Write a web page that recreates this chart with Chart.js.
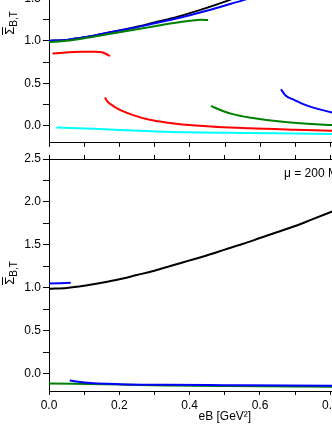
<!DOCTYPE html>
<html>
<head>
<meta charset="utf-8">
<script src="https://cdn.jsdelivr.net/npm/chart.js@4.4.0/dist/chart.umd.min.js"></script>
<style>
  html, body { margin: 0; padding: 0; overflow: hidden; background: #fff; }
  body { width: 332px; height: 430px; position: relative; font-family: "Liberation Sans", Arial, sans-serif; }
  .box { position: absolute; left: 0; width: 412px; }
  .ylab { position: absolute; width: 40px; height: 18px; line-height: 18px; text-align: center;
          font-size: 13px; transform: rotate(-90deg); color: #000; white-space: nowrap; }
  .ylab .s { display: inline-block; line-height: 12px; border-top: 1px solid #000; padding-top: 1px; }
  .ylab sub { font-size: 10px; vertical-align: -3px; }
  #mu { position: absolute; left: 284px; top: 166px; font-size: 12px; line-height: 14px; white-space: nowrap; }
</style>
</head>
<body>
<div class="box" style="top:-96px;height:248px"><canvas id="upper"></canvas></div>
<div class="box" style="top:149px;height:281px"><canvas id="lower"></canvas></div>
<div class="ylab" style="left:-10px;top:14px"><span class="s">Σ</span><sub>B,T</sub></div>
<div class="ylab" style="left:-10px;top:264px"><span class="s">Σ</span><sub>B,T</sub></div>
<div id="mu">μ = 200 MeV</div>
<script>
// axis ticks
const xTickValues = [0, 0.1, 0.2, 0.3, 0.4, 0.5, 0.6, 0.7, 0.8, 0.9, 1.0];
const yTickValues = [0, 0.25, 0.5, 0.75, 1.0, 1.25, 1.5, 1.75, 2.0, 2.25, 2.5];

// upper panel
const upBlackX = [0, 0.05, 0.1, 0.15, 0.2, 0.25, 0.3, 0.35, 0.4, 0.45, 0.5, 0.55, 0.6];
const upBlackY = [1.00, 1.01, 1.04, 1.08, 1.12, 1.165, 1.215, 1.265, 1.325, 1.39, 1.46, 1.535, 1.61];
const upBlueX = [0, 0.05, 0.1, 0.15, 0.2, 0.25, 0.3, 0.35, 0.4, 0.45, 0.5, 0.55, 0.6, 0.65];
const upBlueY = [1.00, 1.01, 1.04, 1.08, 1.12, 1.16, 1.205, 1.25, 1.30, 1.355, 1.415, 1.475, 1.54, 1.61];
const upGreenX = [0, 0.05, 0.1, 0.15, 0.2, 0.25, 0.3, 0.35, 0.4, 0.43, 0.452];
const upGreenY = [0.985, 1.00, 1.03, 1.065, 1.10, 1.135, 1.17, 1.205, 1.235, 1.248, 1.243];
const upRedAX = [0.01, 0.04, 0.07, 0.1, 0.13, 0.15, 0.16, 0.173];
const upRedAY = [0.849, 0.86, 0.868, 0.871, 0.872, 0.866, 0.85, 0.82];
const upRedBX = [0.159, 0.165, 0.182, 0.2, 0.239, 0.286, 0.332, 0.427, 0.569, 0.7, 0.804, 0.9, 1.0];
const upRedBY = [0.333, 0.29, 0.234, 0.19, 0.125, 0.07, 0.04, 0.0, -0.03, -0.047, -0.058, -0.065, -0.07];
const upGreenBX = [0.46, 0.49, 0.522, 0.569, 0.664, 0.804, 0.9, 1.0];
const upGreenBY = [0.234, 0.18, 0.137, 0.098, 0.047, 0.008, -0.01, -0.025];
const upBlueBX = [0.659, 0.673, 0.692, 0.73, 0.804, 0.9, 1.0];
const upBlueBY = [0.43, 0.352, 0.313, 0.243, 0.157, 0.09, 0.05];
const upCyanX = [0.021, 0.144, 0.2, 0.332, 0.569, 0.804, 1.0];
const upCyanY = [-0.02, -0.039, -0.05, -0.07, -0.086, -0.097, -0.105];

// lower panel (mu = 200 MeV)
const lowBlackX = [0, 0.05, 0.1, 0.15, 0.2, 0.25, 0.3, 0.35, 0.4, 0.45, 0.5, 0.55, 0.6, 0.65, 0.7, 0.75, 0.8, 0.85, 0.9, 0.95, 1.0];
const lowBlackY = [0.99, 1.00, 1.025, 1.06, 1.10, 1.15, 1.20, 1.26, 1.32, 1.38, 1.445, 1.51, 1.58, 1.65, 1.72, 1.80, 1.88, 1.96, 2.04, 2.12, 2.20];
const lowBlueAX = [0, 0.062];
const lowBlueAY = [1.05, 1.06];
const lowBlueBX = [0.059, 0.1, 0.2, 0.332, 0.5, 0.804, 1.0];
const lowBlueBY = [-0.078, -0.1, -0.12, -0.127, -0.132, -0.14, -0.143];
const lowGreenX = [0, 0.2, 0.332, 0.5, 0.804, 1.0];
const lowGreenY = [-0.112, -0.125, -0.136, -0.143, -0.15, -0.155];

function pts(xs, ys) {
  return xs.map((x, i) => ({ x: x, y: ys[i] }));
}

function line(xs, ys, color) {
  return {
    data: pts(xs, ys),
    borderColor: color,
    backgroundColor: color,
    borderWidth: 2,
    pointRadius: 0,
    fill: false,
    cubicInterpolationMode: 'monotone'
  };
}

const tickFont = { family: '"Liberation Sans", Arial, sans-serif', size: 12 };

function xScale(showLabels, position, height) {
  return {
    type: 'linear',
    position: position,
    min: 0,
    max: 1.0,
    afterBuildTicks: s => { s.ticks = xTickValues.map(v => ({ value: v })); },
    afterFit: s => { s.height = height; },
    border: { display: true, color: '#000', width: 1 },
    grid: { drawOnChartArea: false, drawTicks: true, tickLength: 4, tickColor: '#000' },
    ticks: {
      color: '#000',
      font: tickFont,
      padding: 3,
      maxRotation: 0,
      autoSkip: false,
      callback: v => (showLabels && Math.round(v * 10) % 2 === 0) ? v.toFixed(1) : ''
    }
  };
}

function yScale() {
  return {
    type: 'linear',
    min: -0.2,
    max: 2.5,
    afterBuildTicks: s => { s.ticks = yTickValues.map(v => ({ value: v })); },
    afterFit: s => { s.width = 49; },
    border: { display: true, color: '#000', width: 1 },
    grid: { drawOnChartArea: false, drawTicks: true, tickLength: 6, tickColor: '#000' },
    ticks: {
      color: '#000',
      font: tickFont,
      padding: 2,
      autoSkip: false,
      callback: v => (Math.round(v * 4) % 2 === 0) ? v.toFixed(1) : ''
    }
  };
}

const common = {
  responsive: true,
  maintainAspectRatio: false,
  animation: false,
  events: [],
  plugins: { legend: { display: false }, tooltip: { enabled: false } }
};

new Chart(document.getElementById('upper').getContext('2d'), {
  type: 'line',
  data: {
    datasets: [
      line(upCyanX, upCyanY, '#00ffff'),
      line(upRedAX, upRedAY, '#ff0000'),
      line(upRedBX, upRedBY, '#ff0000'),
      line(upGreenBX, upGreenBY, '#008000'),
      line(upBlueBX, upBlueBY, '#0000ff'),
      line(upGreenX, upGreenY, '#008000'),
      line(upBlueX, upBlueY, '#0000ff'),
      line(upBlackX, upBlackY, '#000000')
    ]
  },
  options: Object.assign({}, common, {
    layout: { padding: { top: 8, right: 11, left: 0, bottom: 0 } },
    scales: {
      x: xScale(false, 'bottom', 8),
      y: yScale()
    }
  })
});

const lowerX = xScale(true, 'bottom', 39);
lowerX.title = {
  display: true,
  text: 'eB [GeV²]',
  color: '#000',
  font: { family: '"Liberation Sans", Arial, sans-serif', size: 12 },
  padding: { top: 0, bottom: 6 }
};

new Chart(document.getElementById('lower').getContext('2d'), {
  type: 'line',
  data: {
    datasets: [
      line(lowBlueAX, lowBlueAY, '#0000ff'),
      line(lowBlueBX, lowBlueBY, '#0000ff'),
      line(lowGreenX, lowGreenY, '#008000'),
      line(lowBlackX, lowBlackY, '#000000')
    ]
  },
  options: Object.assign({}, common, {
    layout: { padding: { top: 0, right: 11, left: 0, bottom: 0 } },
    scales: {
      x: lowerX,
      x2: xScale(false, 'top', 10),
      y: yScale()
    }
  })
});
</script>
</body>
</html>
